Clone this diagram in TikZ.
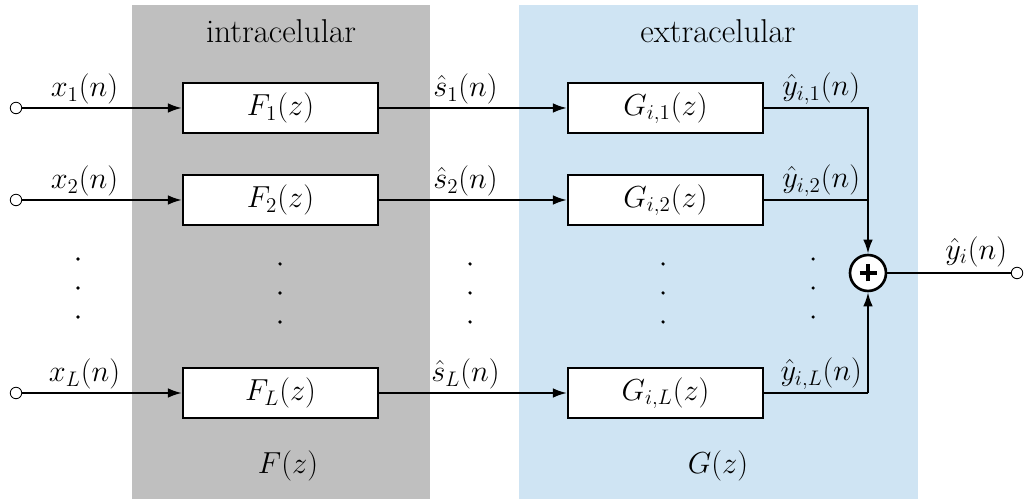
\documentclass[tikz,border=0pt]{standalone}
\usetikzlibrary{arrows.meta}
\definecolor{grayband}{RGB}{191,191,191}
\definecolor{blueband}{RGB}{207,228,243}
\begin{document}
\begin{tikzpicture}[x=0.02cm,y=-0.02cm,
  every node/.style={font=\fontsize{18.8}{22}\selectfont},
  blk/.style={draw,line width=1.2pt,fill=white,minimum width=3.9cm,minimum height=1cm,inner sep=0pt},
  wire/.style={line width=1.2pt},
  arr/.style={wire,-{Latex[length=8pt,width=5.5pt]}},
  lbl/.style={above,inner sep=1.5pt},
  term/.style={draw,circle,fill=white,line width=0.5pt,inner sep=0pt,minimum size=0.23cm},
  dot/.style={fill=black,circle,inner sep=0pt,minimum size=2pt},
  sumnode/.style={draw,circle,line width=1.5pt,fill=white,minimum size=0.72cm,inner sep=0pt,
    path picture={\draw[line width=2.6pt] ([xshift=-0.17cm]path picture bounding box.center) -- ([xshift=0.17cm]path picture bounding box.center);
                  \draw[line width=2.6pt] ([yshift=-0.17cm]path picture bounding box.center) -- ([yshift=0.17cm]path picture bounding box.center);}}]
\useasboundingbox (0,0) rectangle (1024,499);
\fill[grayband] (132,5) rectangle (430,499);
\fill[blueband] (519,5) rectangle (918,499);
\node (tin) at (281,31) {intracelular};
\node (tex) at (718,31) {extracelular};
\node (Fz) at (288,466) {$F(z)$};
\node (Gz) at (718,466) {$G(z)$};
% blocks
\node[blk] (F1) at (280.5,108) {$F_1(z)$};
\node[blk] (F2) at (280.5,200) {$F_2(z)$};
\node[blk] (FL) at (280.5,393) {$F_L(z)$};
\node[blk] (G1) at (665.5,108) {$G_{i,1}(z)$};
\node[blk] (G2) at (665.5,200) {$G_{i,2}(z)$};
\node[blk] (GL) at (665.5,393) {$G_{i,L}(z)$};
% inputs
\node[term] (i1) at (16,108) {};
\node[term] (i2) at (16,200) {};
\node[term] (iL) at (16,393) {};
\draw[arr] (i1) -- node[lbl,pos=0.39] {$x_1(n)$} (F1);
\draw[arr] (i2) -- node[lbl,pos=0.39] {$x_2(n)$} (F2);
\draw[arr] (iL) -- node[lbl,pos=0.39] {$x_L(n)$} (FL);
\draw[arr] (F1) -- node[lbl,pos=0.46] {$\hat{s}_1(n)$} (G1);
\draw[arr] (F2) -- node[lbl,pos=0.46] {$\hat{s}_2(n)$} (G2);
\draw[arr] (FL) -- node[lbl,pos=0.46] {$\hat{s}_L(n)$} (GL);
% sum
\node[sumnode] (S) at (868,273) {};
\coordinate (c1) at (868,108);
\coordinate (c2) at (868,200);
\coordinate (cL) at (868,393);
\draw[wire] (G1.east) -- node[lbl,pos=0.55] {$\hat{y}_{i,1}(n)$} (c1) -- (c2);
\draw[wire] (G2.east) -- node[lbl,pos=0.55] {$\hat{y}_{i,2}(n)$} (c2);
\draw[arr] (c2) -- (S);
\draw[wire] (GL.east) -- node[lbl,pos=0.55] {$\hat{y}_{i,L}(n)$} (cL);
\draw[arr] (cL) -- (S);
\node[term] (o) at (1017,273) {};
\draw[wire] (S) -- node[lbl,pos=0.72,inner sep=3pt] {$\hat{y}_i(n)$} (o);
% dots
\foreach \x/\y in {78/259,280/264,470/264,663/264,813/259}{
  \node[dot] at (\x,\y) {};
  \node[dot] at (\x,\y+29) {};
  \node[dot] at (\x,\y+58) {};
}
\end{tikzpicture}
\end{document}
